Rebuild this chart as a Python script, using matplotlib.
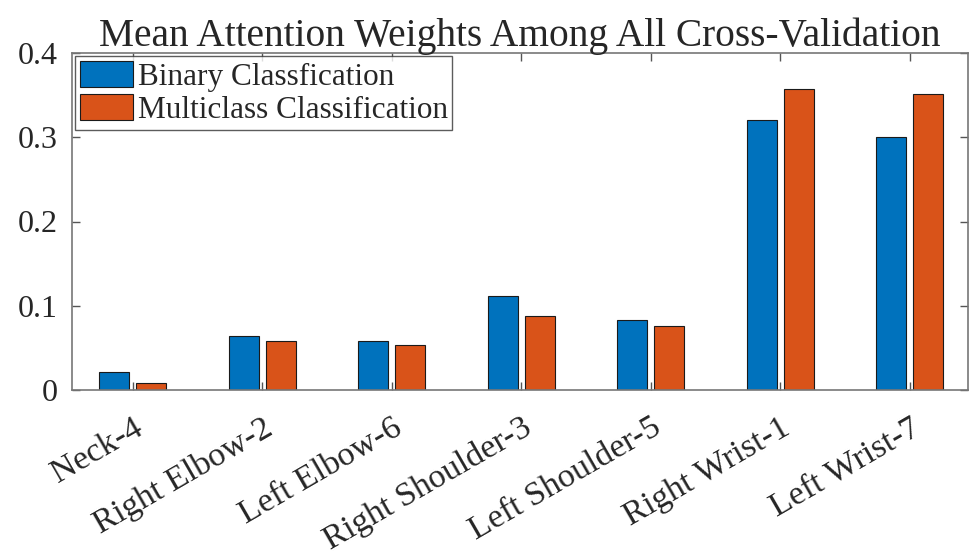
import numpy as np
import matplotlib.pyplot as plt

joints = ['Neck-4', 'Right Elbow-2', 'Left Elbow-6', 'Right Shoulder-3',
          'Left Shoulder-5', 'Right Wrist-1', 'Left Wrist-7']
binary = [0.021, 0.064, 0.058, 0.112, 0.083, 0.321, 0.300]
multiclass = [0.008, 0.058, 0.053, 0.088, 0.076, 0.357, 0.351]
yticks = [0, 0.1, 0.2, 0.3, 0.4]

plt.rcParams['font.family'] = ['Liberation Serif', 'DejaVu Serif']

fig = plt.figure(figsize=(9.73, 5.51), dpi=100)
ax = fig.add_axes([72 / 973, 1 - 390 / 551, 896 / 973, 337 / 551])

x = np.arange(1, len(joints) + 1)
w = 0.23
ax.bar(x - 0.143, binary, w, color='#0072BD', edgecolor='#1a1a1a',
       linewidth=0.8, label='Binary Classfication')
ax.bar(x + 0.143, multiclass, w, color='#D95319', edgecolor='#1a1a1a',
       linewidth=0.8, label='Multiclass Classification')

ax.set_xlim(0.53, 7.45)
ax.set_ylim(0, 0.4)
ax.set_yticks(yticks)
ax.set_yticklabels(['0', '0.1', '0.2', '0.3', '0.4'])
ax.set_xticks(x)
ax.set_xticklabels(joints, rotation=30, ha='right', rotation_mode='anchor')

# matlab-ish box with inward ticks on all sides
for s in ax.spines.values():
    s.set_color('#777777')
    s.set_linewidth(1.2)
ax.tick_params(axis='both', direction='in', top=True, right=True,
               length=6, width=1, color='#555555', labelsize=23,
               labelcolor='#262626')
ax.tick_params(axis='y', pad=10)
ax.tick_params(axis='x', pad=16, labelsize=24.5)

ax.set_title('Mean Attention Weights Among All Cross-Validation',
             fontsize=28.4, color='#262626', pad=5)

leg = ax.legend(loc='upper left', fontsize=22.5, frameon=True, fancybox=False,
                borderaxespad=0.1, handlelength=1.7, handleheight=0.9,
                handletextpad=0.15, borderpad=0.15, labelspacing=0.08)
leg.get_frame().set_edgecolor('#333333')
leg.get_frame().set_linewidth(1.0)
for t in leg.get_texts():
    t.set_color('#262626')

fig.savefig('out.png', dpi=100)
